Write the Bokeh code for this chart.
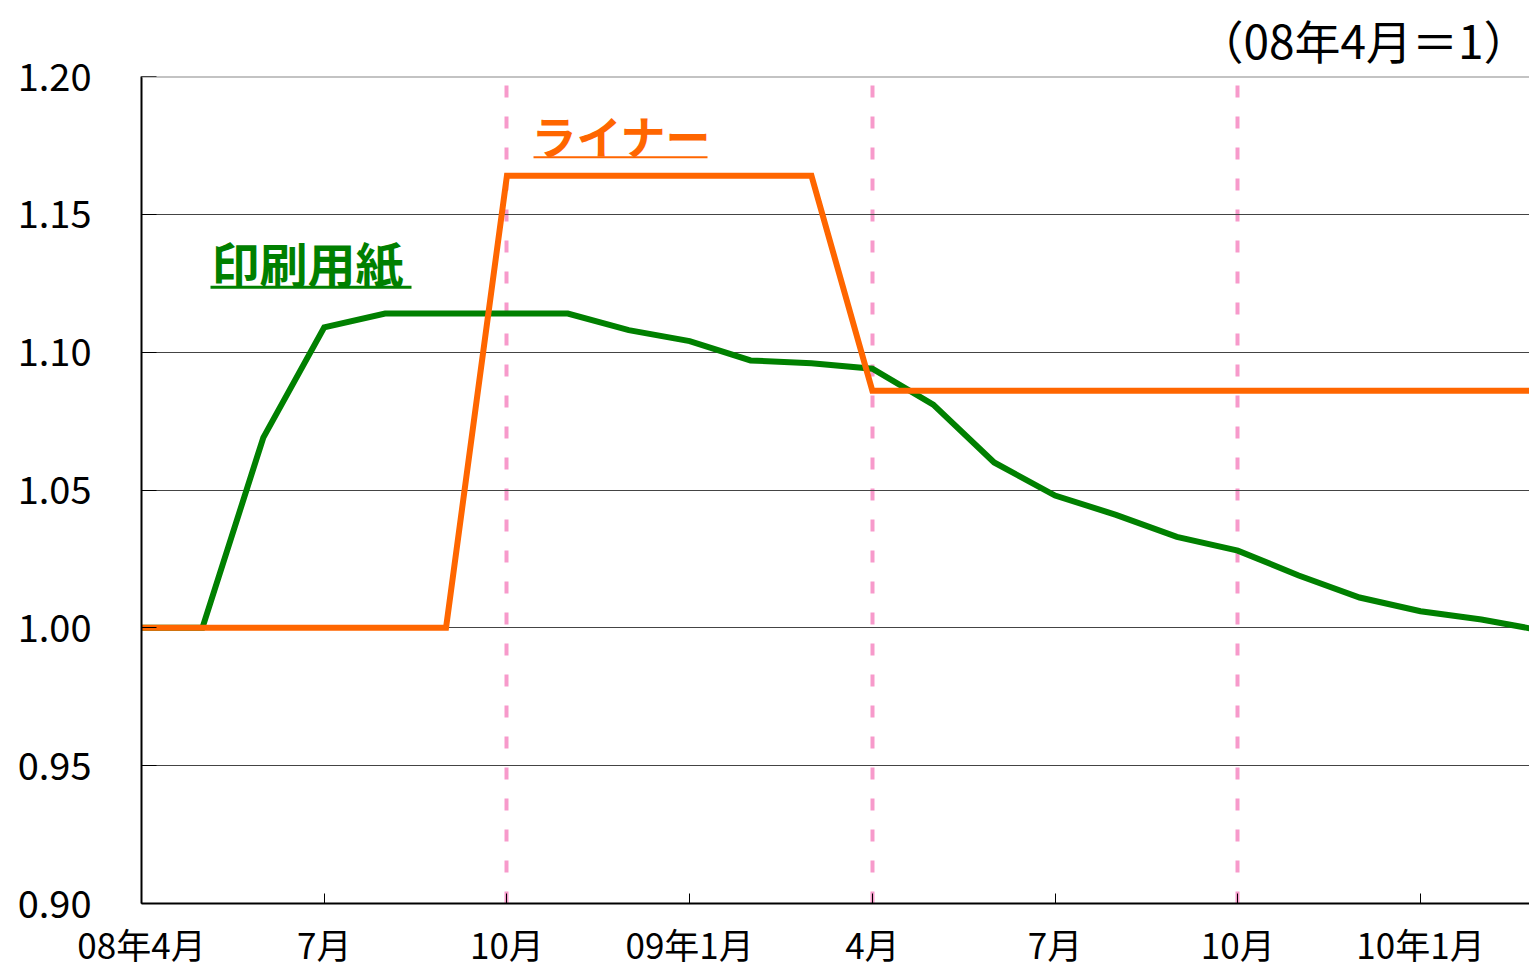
from bokeh.plotting import figure
from bokeh.models import FixedTicker, Label, Span, Title
from bokeh.embed import file_html
from bokeh.resources import INLINE

# months since 2008-04 (0 = 08年4月)
months = list(range(24))
printing_paper = [1.000, 1.000, 1.069, 1.109, 1.114, 1.114, 1.114, 1.114, 1.108, 1.104,
                  1.097, 1.096, 1.094, 1.081, 1.060, 1.048, 1.041, 1.033, 1.028, 1.019,
                  1.011, 1.006, 1.003, 0.999]
liner = [1.000, 1.000, 1.000, 1.000, 1.000, 1.000, 1.164, 1.164, 1.164, 1.164,
         1.164, 1.164, 1.086, 1.086, 1.086, 1.086, 1.086, 1.086, 1.086, 1.086,
         1.086, 1.086, 1.086, 1.086]
tick_positions = [0, 3, 6, 9, 12, 15, 18, 21]
tick_labels = ["08年4月", "7月", "10月", "09年1月", "4月", "7月", "10月", "10年1月"]
y_ticks = [0.90, 0.95, 1.00, 1.05, 1.10, 1.15, 1.20]
year_marks = [6, 12, 18]

FONT = "Noto Sans CJK JP"
month_px = (1420 - 141) / 21.0
frame_w = 1529 - 141

p = figure(width=1529, height=971, output_backend="svg", toolbar_location=None,
           x_range=(0, frame_w / month_px), y_range=(0.90, 1.20),
           min_border_left=141, min_border_right=0, min_border_top=76, min_border_bottom=68)
p.outline_line_color = None
p.background_fill_color = "white"

# unit note
unit = Title(text="（08年4月＝1）", align="right", vertical_align="top", text_font=FONT,
             text_font_size="46px", text_color="black", text_font_style="normal",
             standoff=6)
p.add_layout(unit, "above")

# axes
p.xaxis.ticker = FixedTicker(ticks=tick_positions)
p.xaxis.major_label_overrides = {t: l for t, l in zip(tick_positions, tick_labels)}
p.yaxis.ticker = FixedTicker(ticks=y_ticks)
p.yaxis.major_label_overrides = {t: f"{t:.2f}" for t in y_ticks}
for ax in (p.xaxis, p.yaxis):
    ax.axis_line_color = "black"
    ax.axis_line_width = 2
    ax.major_tick_line_color = "black"
    ax.major_tick_line_width = 1
    ax.major_tick_out = 0
    ax.minor_tick_line_color = None
    ax.major_label_text_font = FONT
    ax.major_label_text_color = "black"
p.xaxis.major_tick_in = 10
p.yaxis.major_tick_in = 15
p.xaxis.major_label_text_font_size = "35px"
p.yaxis.major_label_text_font_size = "38px"
p.xaxis.major_label_standoff = 14
p.yaxis.major_label_standoff = 50

# grids
p.ygrid.ticker = FixedTicker(ticks=y_ticks)
p.ygrid.grid_line_color = "#444444"
p.ygrid.grid_line_width = 1
p.xgrid.ticker = FixedTicker(ticks=year_marks)
p.xgrid.grid_line_color = "#F79ACB"
p.xgrid.grid_line_width = 4
p.xgrid.grid_line_dash = "12 19"

top = Span(location=1.20, dimension="width", line_color="#888888", line_width=2)
p.add_layout(top)

# series
p.line(months, printing_paper, line_color="#008000", line_width=6, line_join="miter")
p.line(months, liner, line_color="#FF6600", line_width=6, line_join="miter")

# labels
def y_of(py):
    return 0.90 + (903 - py) / 2756.0

def x_of(px):
    return (px - 141) / month_px

lab1 = Label(x=x_of(531), y=y_of(168), text="ライナー", text_font=FONT, text_font_size="45px",
             text_color="#FF6600", text_font_style="bold", text_baseline="bottom")
p.add_layout(lab1)
p.segment(x0=[x_of(533)], y0=[y_of(157)], x1=[x_of(707)], y1=[y_of(157)],
          line_color="#FF6600", line_width=2)
lab2 = Label(x=x_of(211), y=y_of(297), text="印刷用紙", text_font=FONT, text_font_size="48px",
             text_color="#008000", text_font_style="bold", text_baseline="bottom")
p.add_layout(lab2)
p.segment(x0=[x_of(210)], y0=[y_of(287)], x1=[x_of(411)], y1=[y_of(287)],
          line_color="#008000", line_width=3)

open("out.html", "w").write(file_html(p, INLINE))
